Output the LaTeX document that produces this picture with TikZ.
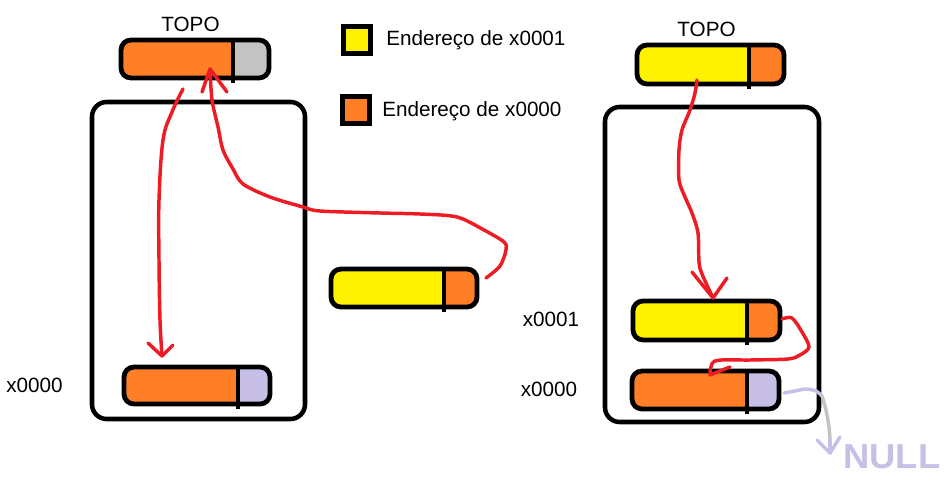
\documentclass[tikz,border=0pt]{standalone}
\usepackage{fontspec}
\setmainfont{Liberation Sans}
\usetikzlibrary{fit}
\definecolor{porange}{RGB}{255,127,39}
\definecolor{pyellow}{RGB}{255,242,0}
\definecolor{pgray}{RGB}{195,195,195}
\definecolor{plav}{RGB}{200,191,231}
\definecolor{pred}{RGB}{237,28,36}
\definecolor{pdgray}{RGB}{195,195,195}
\newcommand\memcell[8]{%
  \begin{scope}
    \clip[rounded corners=7.5pt] (#2,#3) rectangle (#4,#5);
    \fill[#7] (#2,#3) rectangle (#6,#5);
    \fill[#8] (#6,#3) rectangle (#4,#5);
  \end{scope}
  \draw[cellline] (#2,#3) rectangle (#4,#5);
  \draw[divline] (#6,#3) -- (#6,{#5+5});
  \node[fit={(#2,#3) (#4,#5)}, inner sep=0pt] (#1) {};
}
\begin{document}
\begin{tikzpicture}[x=0.75pt,y=-0.75pt,
  cellline/.style={line width=3.6pt, rounded corners=7.5pt},
  divline/.style={line width=2.8pt},
  stackbox/.style={line width=3.4pt, rounded corners=11pt},
  legsq/.style={draw, line width=3.6pt},
  lbl/.style={font=\fontsize{15.5}{18}\selectfont, inner sep=0pt, anchor=base},
  legtxt/.style={font=\fontsize{15.5}{18}\selectfont, inner sep=0pt, anchor=base west},
  redline/.style={pred, line width=2.6pt, line cap=round, line join=round},
  lavline/.style={plav, line width=2.6pt, line cap=round, line join=round}]
\useasboundingbox (0,0) rectangle (945,492);

% containers
\draw[stackbox] (92,102) rectangle (305,419);
\node[fit={(92,102) (305,419)}, inner sep=0pt] (lstack) {};
\draw[stackbox] (605,107) rectangle (819,422);
\node[fit={(605,107) (819,422)}, inner sep=0pt] (rstack) {};

% cells
\memcell{lt}{121}{40}{269}{78}{233}{porange}{pgray}
\memcell{lb}{124}{367}{270}{404}{238}{porange}{plav}
\memcell{mid}{331}{269}{477}{307}{444}{pyellow}{porange}
\memcell{rt}{637}{45}{784}{84}{749}{pyellow}{porange}
\memcell{ra}{633}{301}{780}{340}{747}{pyellow}{porange}
\memcell{rb}{632}{371}{779}{409}{747}{porange}{plav}

% labels
\node[lbl] (topoL) at (190.5,31.7) {TOPO};
\node[lbl] (topoR) at (706.5,36.7) {TOPO};
\node[lbl] (labL0) at (34.5,392.3) {x0000};
\node[lbl] (labR1) at (551,326.7) {x0001};
\node[lbl] (labR0) at (549,396.7) {x0000};

% legend
\node[legsq, fill=pyellow, minimum width=20pt, minimum height=20pt, inner sep=0pt] (leg1) at (357,40) {};
\node[legsq, fill=porange, minimum width=20pt, minimum height=20pt, inner sep=0pt] (leg0) at (356,110) {};
\node[legtxt] (legt1) at (386,45.7) {Endereço de x0001};
\node[legtxt] (legt0) at (382,116.7) {Endereço de x0000};

% arrow 1: top pointer -> x0000 (left)
\coordinate (a1s) at (183,89);
\coordinate (a1e) at (162,356);
\draw[redline] plot[smooth, tension=0.6] coordinates {(a1s) (172,112) (163,140) (159,200) (159,260) (160,320) (a1e)};
\draw[redline] (148,343) -- (a1e) -- (173,345);

% arrow 2: new cell next -> top (left)
\coordinate (a2s) at (486,278);
\coordinate (a2e) at (210,69);
\draw[redline] plot[smooth, tension=0.5] coordinates {(a2s) (500,266) (506,250) (504,242) (484,230) (457,217) (420,214) (380,213) (320,211) (303,207) (270,197) (243,184) (233,169) (223,150) (218,127) (212,100) (a2e)};
\draw[redline] (202,92) -- (a2e) -- (227,92);

% arrow 3: top -> x0001 (right)
\coordinate (a3s) at (697,80);
\coordinate (a3e) at (713,298);
\draw[redline] plot[smooth, tension=0.5] coordinates {(a3s) (695,93) (690,110) (682,130) (679,150) (679,180) (685,197) (692,213) (698,233) (699,262) (702,274) (a3e)};
\draw[redline] (692,272) -- (a3e) -- (727,278);

% arrow 4: x0001 next -> x0000 (right)
\coordinate (a4s) at (782,319);
\coordinate (a4e) at (710,375);
\draw[redline] plot[smooth, tension=0.5] coordinates {(a4s) (792,318) (802,332) (809,347) (800,355) (788,359) (750,360) (715,361) (a4e)};
\draw[redline] (730,367) -- (a4e);

% NULL pointer
\coordinate (a5s) at (784,393);
\coordinate (a5e) at (830,453);
\draw[lavline] plot[smooth, tension=0.5] coordinates {(a5s) (795,391) (806,389) (816,391) (822,396)};
\draw[pdgray, line width=2.6pt, line cap=round] plot[smooth, tension=0.5] coordinates {(822,396) (826,410) (829,427) (830,440)};
\draw[lavline] (830,440) -- (a5e);
\draw[lavline] (817,440) -- (a5e) -- (840,437);
\node[inner sep=0pt, anchor=base west, text=plav, font=\fontsize{26}{28}\selectfont\bfseries, xscale=1.05] (null) at (843,468) {NULL};
\end{tikzpicture}
\end{document}
